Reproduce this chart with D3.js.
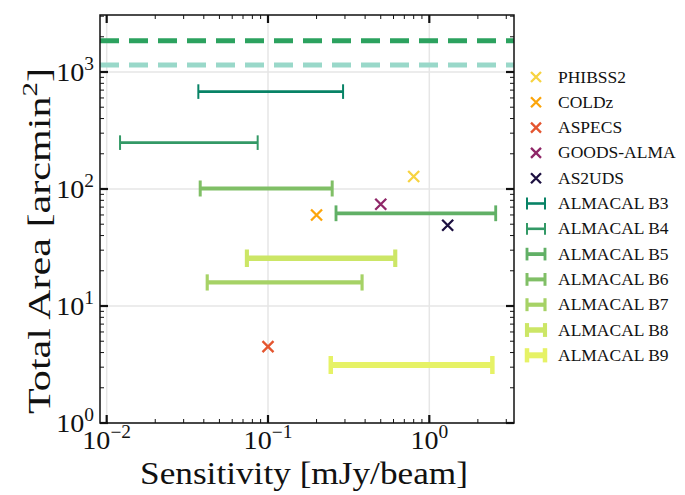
<!DOCTYPE html>
<html>
<head>
<meta charset="utf-8">
<script src="https://cdn.jsdelivr.net/npm/d3@7"></script>
<style>
  html, body { margin: 0; padding: 0; background: #fff; }
  svg { display: block; }
  text { font-family: "Liberation Serif", "DejaVu Serif", serif; fill: #111; }
</style>
</head>
<body>
<svg id="chart" width="685" height="495"></svg>
<script>
// ---- data ----
const surveyNames = ["PHIBSS2", "COLDz", "ASPECS", "GOODS-ALMA", "AS2UDS"];
const surveySens = [0.8, 0.2, 0.1, 0.5, 1.3];
const surveyArea = [128, 60, 4.5, 74, 49];
const surveyColors = ["#f7d340", "#fca50a", "#e4552f", "#8f2768", "#1c1040"];

const bandNames = ["ALMACAL B3", "ALMACAL B4", "ALMACAL B5", "ALMACAL B6", "ALMACAL B7", "ALMACAL B8", "ALMACAL B9"];
const bandSensMin = [0.037, 0.0121, 0.264, 0.038, 0.042, 0.074, 0.245];
const bandSensMax = [0.292, 0.0863, 2.58, 0.25, 0.383, 0.615, 2.46];
const bandArea = [680, 249, 62, 101, 15.9, 25.6, 3.13];
const bandT = [0.03, 0.2, 0.38, 0.5, 0.65, 0.8, 0.9];   // summer colormap positions
const bandWidths = [2.6, 2.6, 3.8, 4.0, 4.2, 5.5, 6.0];

const totalAreaLines = [1850, 1150];
const totalAreaColors = ["#2ca25f", "#99d8c9"];

const xTickValues = [0.01, 0.1, 1];
const xTickExps = ["−2", "−1", "0"];
const yTickValues = [1, 10, 100, 1000];
const yTickExps = ["0", "1", "2", "3"];

// ---- layout ----
const svg = d3.select("#chart");
const L = 100, R = 514, T = 15, B = 423;
const x = d3.scaleLog().domain([0.00909, 3.35]).range([L, R]);
const y = d3.scaleLog().domain([1, 3070]).range([B, T]);
const summer = t => d3.rgb(255 * t, 255 * (0.5 + 0.5 * t), 102).formatHex();

const clipId = "plotclip";
svg.append("defs").append("clipPath").attr("id", clipId)
  .append("rect").attr("x", L).attr("y", T).attr("width", R - L).attr("height", B - T);

// grid
const grid = svg.append("g");
xTickValues.forEach(v => grid.append("line")
  .attr("x1", x(v)).attr("x2", x(v)).attr("y1", T).attr("y2", B)
  .attr("stroke", "#e6e6e6").attr("stroke-width", 1.5));
yTickValues.forEach(v => grid.append("line")
  .attr("y1", y(v)).attr("y2", y(v)).attr("x1", L).attr("x2", R)
  .attr("stroke", "#e6e6e6").attr("stroke-width", 1.5));

const plot = svg.append("g").attr("clip-path", `url(#${clipId})`);

// dashed total-area lines
totalAreaLines.forEach((v, i) => plot.append("line")
  .attr("x1", L).attr("x2", R).attr("y1", y(v)).attr("y2", y(v))
  .attr("stroke", totalAreaColors[i]).attr("stroke-width", 5)
  .attr("stroke-dasharray", "19,10"));

// error bars
bandNames.forEach((n, i) => {
  const g = plot.append("g").attr("stroke", summer(bandT[i])).attr("stroke-width", bandWidths[i]);
  const yy = y(bandArea[i]);
  const h = 6 + bandWidths[i] * 0.5;
  g.append("line").attr("x1", x(bandSensMin[i])).attr("x2", x(bandSensMax[i])).attr("y1", yy).attr("y2", yy);
  [bandSensMin[i], bandSensMax[i]].forEach(s => g.append("line")
    .attr("x1", x(s)).attr("x2", x(s)).attr("y1", yy - h).attr("y2", yy + h)
    .attr("stroke-width", Math.max(2, bandWidths[i] * 0.75)));
});

// survey markers
function cross(g, cx, cy, r, color) {
  g.append("path").attr("d", `M${cx - r},${cy - r}L${cx + r},${cy + r}M${cx - r},${cy + r}L${cx + r},${cy - r}`)
    .attr("stroke", color).attr("stroke-width", 2.3).attr("fill", "none");
}
surveyNames.forEach((n, i) => cross(plot, x(surveySens[i]), y(surveyArea[i]), 5.5, surveyColors[i]));

// ticks (inward, all sides)
const ax = svg.append("g").attr("stroke", "#111");
function minorVals(domain) {
  const out = [];
  for (let e = -3; e <= 4; e++) for (let m = 2; m <= 9; m++) {
    const v = m * Math.pow(10, e);
    if (v >= domain[0] && v <= domain[1]) out.push(v);
  }
  return out;
}
const xd = x.domain(), yd = y.domain();
minorVals(xd).forEach(v => {
  ax.append("line").attr("x1", x(v)).attr("x2", x(v)).attr("y1", B).attr("y2", B - 4).attr("stroke-width", 1);
  ax.append("line").attr("x1", x(v)).attr("x2", x(v)).attr("y1", T).attr("y2", T + 4).attr("stroke-width", 1);
});
minorVals(yd).forEach(v => {
  ax.append("line").attr("y1", y(v)).attr("y2", y(v)).attr("x1", L).attr("x2", L + 4).attr("stroke-width", 1);
  ax.append("line").attr("y1", y(v)).attr("y2", y(v)).attr("x1", R).attr("x2", R - 4).attr("stroke-width", 1);
});
xTickValues.forEach(v => {
  ax.append("line").attr("x1", x(v)).attr("x2", x(v)).attr("y1", B).attr("y2", B - 8).attr("stroke-width", 2.2);
  ax.append("line").attr("x1", x(v)).attr("x2", x(v)).attr("y1", T).attr("y2", T + 8).attr("stroke-width", 2.2);
});
yTickValues.forEach(v => {
  ax.append("line").attr("y1", y(v)).attr("y2", y(v)).attr("x1", L).attr("x2", L + 8).attr("stroke-width", 2.2);
  ax.append("line").attr("y1", y(v)).attr("y2", y(v)).attr("x1", R).attr("x2", R - 8).attr("stroke-width", 2.2);
});
svg.append("rect").attr("x", L).attr("y", T).attr("width", R - L).attr("height", B - T)
  .attr("fill", "none").attr("stroke", "#111").attr("stroke-width", 1.5);

// helper: stretch text group along its direction to a target length
function fitWidth(g, target) {
  const w = g.node().getBBox().width;
  return w > 0 ? target / w : 1;
}

// tick labels
xTickValues.forEach((v, i) => {
  const g = svg.append("g");
  const t = g.append("text").attr("x", 0).attr("y", 0).attr("text-anchor", "middle").style("font-size", "26px");
  t.append("tspan").text("10");
  t.append("tspan").attr("dy", -11).style("font-size", "18px").text(xTickExps[i]);
  g.attr("transform", `translate(${x(v)},449) scale(1.08,1)`);
});
yTickValues.forEach((v, i) => {
  const g = svg.append("g");
  const t = g.append("text").attr("x", 0).attr("y", 0).attr("text-anchor", "end").style("font-size", "26px");
  t.append("tspan").text("10");
  t.append("tspan").attr("dy", -11).style("font-size", "18px").text(yTickExps[i]);
  g.attr("transform", `translate(94,${y(v) + 9}) scale(1.08,1)`);
});

// axis labels
{
  const g = svg.append("g");
  g.append("text").attr("x", 0).attr("y", 0).attr("text-anchor", "middle")
    .style("font-size", "32px").text("Sensitivity [mJy/beam]");
  const s = fitWidth(g, 328);
  g.attr("transform", `translate(304,484) scale(${s},1)`);
}
{
  const g = svg.append("g");
  const yl = g.append("text").attr("x", 0).attr("y", 0).attr("text-anchor", "middle").style("font-size", "32px");
  yl.append("tspan").text("Total Area [arcmin");
  yl.append("tspan").attr("dy", -13).style("font-size", "22px").text("2");
  yl.append("tspan").attr("dy", 13).text("]");
  const s = fitWidth(g, 346);
  g.attr("transform", `translate(50,241) rotate(-90) scale(${s},1)`);
}

// legend
const lg = svg.append("g");
const ly0 = 77, ldy = 25.3;
function legendText(yy, n) {
  const g = lg.append("g").attr("transform", `translate(558,${yy + 5.5}) scale(1.06,1)`);
  g.append("text").attr("x", 0).attr("y", 0).style("font-size", "16.5px").text(n);
}
surveyNames.forEach((n, i) => {
  const yy = ly0 + i * ldy;
  cross(lg, 536, yy, 5, surveyColors[i]);
  legendText(yy, n);
});
bandNames.forEach((n, i) => {
  const yy = ly0 + (i + surveyNames.length) * ldy;
  const g = lg.append("g").attr("stroke", summer(bandT[i]));
  const h = 5 + bandWidths[i] * 0.35;
  g.append("line").attr("x1", 527).attr("x2", 545).attr("y1", yy).attr("y2", yy).attr("stroke-width", bandWidths[i]);
  [527, 545].forEach(xx => g.append("line").attr("x1", xx).attr("x2", xx).attr("y1", yy - h).attr("y2", yy + h)
    .attr("stroke-width", Math.max(2, bandWidths[i] * 0.75)));
  legendText(yy, n);
});
</script>
</body>
</html>
